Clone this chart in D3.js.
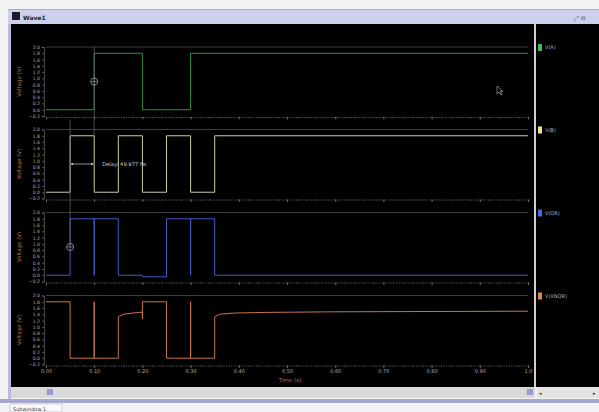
<!DOCTYPE html>
<html>
<head>
<meta charset="utf-8">
<script src="https://cdn.jsdelivr.net/npm/d3@7"></script>
<style>
    body { margin: 0; background: #f2f2f2; }
    svg { display: block; font-family: "DejaVu Sans", sans-serif; }
</style>
</head>
<body>
<div id="wave"></div>
<script>
// ---- data ----
const timeTicks = [0, 0.1, 0.2, 0.3, 0.4, 0.5, 0.6, 0.7, 0.8, 0.9, 1.0];
const timeLabels = ["0.00", "0.10", "0.20", "0.30", "0.40", "0.50", "0.60", "0.70", "0.80", "0.90", "1.0"];
const voltTicks = [2.0, 1.8, 1.6, 1.4, 1.2, 1.0, 0.8, 0.6, 0.4, 0.2, 0.0, -0.2];

const signalNames = ["V(A)", "V(B)", "V(OR)", "V(XNOR)"];
const signalColors = ["#32903a", "#cfcf94", "#4658c8", "#c8744a"];
const legendColors = ["#3fc04a", "#e8e88a", "#3f6ee0", "#e08a4a"];

// [time, volts]
const vA = [[0, 0], [0.1, 0], [0.1, 1.8], [0.2, 1.8], [0.2, 0], [0.3, 0], [0.3, 1.8], [1.0, 1.8]];
const vB = [[0, 0], [0.05, 0], [0.05, 1.8], [0.1, 1.8], [0.1, 0], [0.15, 0], [0.15, 1.8], [0.2, 1.8],
    [0.2, 0], [0.25, 0], [0.25, 1.8], [0.3, 1.8], [0.3, 0], [0.35, 0], [0.35, 1.8], [1.0, 1.8]];
const vOR = [[0, 0], [0.05, 0], [0.05, 1.8], [0.1, 1.8], [0.1, 0], [0.1, 1.8], [0.15, 1.8], [0.15, 0],
    [0.2, 0], [0.2, -0.05], [0.25, -0.05], [0.25, 1.8], [0.3, 1.8], [0.3, 0], [0.3, 1.8], [0.35, 1.8],
    [0.35, 0], [1.0, 0]];
const vXNOR = [[0, 1.8], [0.05, 1.8], [0.05, 0], [0.1, 0], [0.1, 1.8], [0.1, 0], [0.15, 0], [0.15, 1.32],
    [0.16, 1.4], [0.18, 1.44], [0.2, 1.47], [0.2, 1.25], [0.2, 1.8], [0.25, 1.8], [0.25, 0], [0.3, 0],
    [0.3, 1.8], [0.3, 0], [0.35, 0], [0.35, 1.32], [0.36, 1.4], [0.39, 1.44], [0.45, 1.46], [0.6, 1.48],
    [1.0, 1.5]];
const signals = [vA, vB, vOR, vXNOR];

const delayText = "Delay: 49.977 Ns";

// ---- layout ----
const W = 599, H = 412;
const plot = {left: 46, right: 528, panelTops: [47, 129.5, 212.5, 295.5], panelH: 69};

const svg = d3.select("#wave").append("svg")
    .attr("width", W)
    .attr("height", H);

// window chrome
svg.append("rect").attr("x", 0).attr("y", 0).attr("width", W).attr("height", H).attr("fill", "#f3f3f3");
svg.append("rect").attr("x", 8).attr("y", 9).attr("width", W - 8).attr("height", 15).attr("fill", "#cdd0ec");
svg.append("line").attr("x1", 8).attr("x2", W).attr("y1", 9.5).attr("y2", 9.5).attr("stroke", "#a9acd6");
svg.append("rect").attr("x", 12).attr("y", 12).attr("width", 8).attr("height", 8).attr("fill", "#1a1a2a");
svg.append("text").attr("x", 23).attr("y", 19.5).attr("font-size", 6).attr("font-weight", "bold")
    .attr("fill", "#222").text("Wave1");
svg.append("text").attr("x", 574).attr("y", 20).attr("font-size", 6).attr("fill", "#555").text("⤢ ⧉");

svg.append("rect").attr("x", 8).attr("y", 24).attr("width", 3).attr("height", 376).attr("fill", "#b8bbe0");
svg.append("rect").attr("x", 11).attr("y", 24).attr("width", W - 11).attr("height", 363).attr("fill", "#000");

// bottom scroll bar + status strip
svg.append("rect").attr("x", 11).attr("y", 387).attr("width", 524).attr("height", 11).attr("fill", "#d9d9d9");
svg.append("rect").attr("x", 47).attr("y", 389).attr("width", 6).attr("height", 6).attr("fill", "#9a9ad0");
svg.append("rect").attr("x", 527).attr("y", 389).attr("width", 6).attr("height", 6).attr("fill", "#9a9ad0");
svg.append("rect").attr("x", 537).attr("y", 387).attr("width", 62).attr("height", 11).attr("fill", "#e4e4e4");
svg.append("text").attr("x", 539).attr("y", 395).attr("font-size", 5).attr("fill", "#333").text("◂");
svg.append("text").attr("x", 593).attr("y", 395).attr("font-size", 5).attr("fill", "#333").text("▸");
svg.append("rect").attr("x", 0).attr("y", 399).attr("width", W).attr("height", 4).attr("fill", "#a6a8d2");
svg.append("rect").attr("x", 10).attr("y", 404).attr("width", 52).attr("height", 8).attr("fill", "#fafafa")
    .attr("stroke", "#aaa").attr("stroke-width", 0.5);
svg.append("text").attr("x", 13).attr("y", 410.5).attr("font-size", 5).attr("fill", "#333").text("Subwindow 1");

// divider between plot and legend
svg.append("rect").attr("x", 534).attr("y", 24).attr("width", 2).attr("height", 363).attr("fill", "#cfcfcf");

// scales
const x = d3.scaleLinear().domain([0, 1.0]).range([plot.left, plot.right]);
const minorTimes = d3.range(0, 1.0001, 0.02);

signals.forEach(function (data, i) {
    const top = plot.panelTops[i];
    const y = d3.scaleLinear().domain([-0.2, 2.0]).range([top + plot.panelH, top]);
    const g = svg.append("g").attr("class", "panel");

    // top frame line at 2.0
    g.append("line")
        .attr("x1", plot.left).attr("x2", plot.right)
        .attr("y1", y(2.0)).attr("y2", y(2.0))
        .attr("stroke", "#4d4d4d").attr("stroke-width", 0.8);

    // y axis
    const yAxis = g.append("g")
        .attr("transform", "translate(" + (plot.left - 2) + ",0)")
        .call(d3.axisLeft(y).tickValues(voltTicks).tickSize(2).tickPadding(2).tickFormat(d3.format(".1f")));
    yAxis.select(".domain").attr("stroke", "#777").attr("stroke-width", 0.6);
    yAxis.selectAll(".tick line").attr("stroke", "#888").attr("stroke-width", 0.6);
    yAxis.selectAll("text").attr("fill", "#a8a8a8").attr("font-size", 4.6).attr("font-family", "DejaVu Sans");

    // bottom axis (dotted look from minor ticks)
    const bottom = y(-0.2) + 1;
    const minor = g.append("g")
        .attr("transform", "translate(0," + bottom + ")")
        .call(d3.axisBottom(x).tickValues(minorTimes).tickSize(1.2).tickFormat(""));
    minor.select(".domain").attr("stroke", "#777").attr("stroke-width", 0.6).attr("stroke-dasharray", "1.5,1");
    minor.selectAll(".tick line").attr("stroke", "#888").attr("stroke-width", 0.5);

    const major = g.append("g")
        .attr("transform", "translate(0," + bottom + ")")
        .call(d3.axisBottom(x).tickValues(timeTicks).tickSize(2.5).tickPadding(1.5)
            .tickFormat(function (d, k) { return i === signals.length - 1 ? timeLabels[k] : ""; }));
    major.select(".domain").remove();
    major.selectAll(".tick line").attr("stroke", "#999").attr("stroke-width", 0.6);
    major.selectAll("text").attr("fill", "#b0b0b0").attr("font-size", 5).attr("font-family", "DejaVu Sans");

    // y label
    g.append("text")
        .attr("transform", "translate(21," + (top + plot.panelH / 2) + ") rotate(-90)")
        .attr("text-anchor", "middle")
        .attr("font-size", 5.5)
        .attr("fill", "#b8743c")
        .text("Voltage (V)");

    // waveform
    const line = d3.line()
        .x(function (d) { return x(d[0]); })
        .y(function (d) { return y(d[1]); });
    g.append("path")
        .datum(data)
        .attr("d", line)
        .attr("fill", "none")
        .attr("stroke", signalColors[i])
        .attr("stroke-width", 1);

    // legend entry
    g.append("rect")
        .attr("x", 538).attr("y", y(2.0) - 3)
        .attr("width", 4).attr("height", 7)
        .attr("fill", legendColors[i]);
    g.append("text")
        .attr("x", 545).attr("y", y(2.0) + 2)
        .attr("font-size", 5)
        .attr("fill", "#b5b5b5")
        .text(signalNames[i]);
});

// x axis title
svg.append("text")
    .attr("x", x(0.5) + 3).attr("y", 381.5)
    .attr("text-anchor", "middle")
    .attr("font-size", 5.5)
    .attr("fill", "#c0607a")
    .text("Time (s)");

// cursor lines and markers for the delay measurement
const yTop = function (i) { return d3.scaleLinear().domain([-0.2, 2.0]).range([plot.panelTops[i] + plot.panelH, plot.panelTops[i]]); };
const y1 = yTop(0), y2 = yTop(1), y3 = yTop(2);

svg.append("line")
    .attr("x1", x(0.1)).attr("x2", x(0.1))
    .attr("y1", y1(2.0)).attr("y2", y2(1.8))
    .attr("stroke", "#6a6a6a").attr("stroke-width", 0.7);
svg.append("line")
    .attr("x1", x(0.05)).attr("x2", x(0.05))
    .attr("y1", y2(2.0) - 10).attr("y2", y3(0.9))
    .attr("stroke", "#6a6a6a").attr("stroke-width", 0.7);

[[x(0.1), y1(0.9)], [x(0.05), y3(0.9)]].forEach(function (p) {
    svg.append("circle").attr("cx", p[0]).attr("cy", p[1]).attr("r", 3.5)
        .attr("fill", "none").attr("stroke", "#9a9a9a").attr("stroke-width", 0.8);
    svg.append("line").attr("x1", p[0] - 3.5).attr("x2", p[0] + 3.5).attr("y1", p[1]).attr("y2", p[1])
        .attr("stroke", "#9a9a9a").attr("stroke-width", 0.6);
});

// delay arrow
const ay = y2(0.9);
svg.append("defs").selectAll("marker")
    .data(["arrowL", "arrowR"])
    .enter().append("marker")
    .attr("id", function (d) { return d; })
    .attr("viewBox", "0 0 6 6").attr("refX", 5).attr("refY", 3)
    .attr("markerWidth", 4).attr("markerHeight", 4)
    .attr("orient", "auto-start-reverse")
    .append("path").attr("d", "M0,0 L6,3 L0,6 Z").attr("fill", "#cfcfcf");
svg.append("line")
    .attr("x1", x(0.05) + 1).attr("x2", x(0.1) - 1)
    .attr("y1", ay).attr("y2", ay)
    .attr("stroke", "#cfcfcf").attr("stroke-width", 0.7)
    .attr("marker-start", "url(#arrowL)").attr("marker-end", "url(#arrowR)");
svg.append("text")
    .attr("x", x(0.1) + 8).attr("y", ay + 2)
    .attr("font-size", 5.2)
    .attr("fill", "#cfcfcf")
    .text(delayText);

// mouse pointer left in panel 1
svg.append("path")
    .attr("d", "M497,86 l0,8 l2,-2 l2,3 l1,-0.6 l-2,-3 l3,0 Z")
    .attr("fill", "#000").attr("stroke", "#ddd").attr("stroke-width", 0.5);
</script>
</body>
</html>
